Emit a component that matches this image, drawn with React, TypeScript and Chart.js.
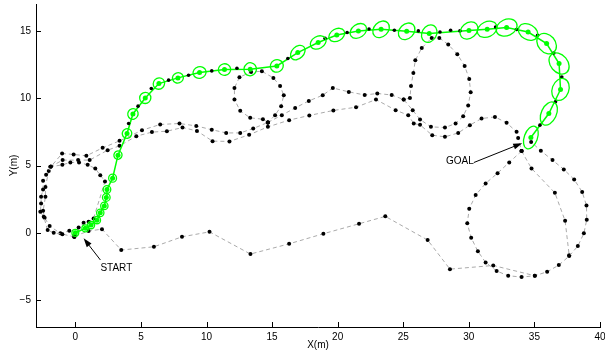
import React, { useEffect, useRef } from "react";
import { Chart, registerables } from "chart.js";
Chart.register(...registerables);

type P = [number, number];

const xTicks = [0, 5, 10, 15, 20, 25, 30, 35, 40];
const yTicks = [-5, 0, 5, 10, 15];

const bottomPath: P[] = [
  [-0.05, -0.24], [1.01, 0.13], [2.03, 0.27], [3.5, -1.28], [5.99, -1.04], [8.13, -0.3],
  [10.23, 0.07], [13.35, -1.58], [16.3, -0.82], [18.91, -0.07], [21.63, 0.67], [23.63, 1.22],
  [26.86, -0.54], [28.56, -2.7], [31.86, -2.43], [35.03, -3.19],
];

const lowerLoop: P[] = [
  [34.02, 6.07], [33.08, 5.23], [32.19, 4.43], [31.28, 3.67], [30.52, 2.8], [30.03, 1.78],
  [29.88, 0.7], [30.18, -0.37], [30.69, -1.38], [31.28, -2.2], [32.12, -2.84], [33.0, -3.19],
  [34.02, -3.29], [35.03, -3.19], [35.97, -2.9], [36.86, -2.4], [37.65, -1.73], [38.31, -0.99],
  [38.77, -0.04], [38.99, 0.97], [38.97, 2.03], [38.64, 3.04], [38.03, 3.96], [37.24, 4.71],
  [36.38, 5.4], [35.49, 6.09], [34.75, 6.75],
];

const lowerLoopInner: P[] = [
  [34.02, 6.07], [34.78, 4.78], [36.56, 2.97], [37.34, 0.89], [37.65, -1.66],
];

const leftLoopOuter: P[] = [
  [-0.08, -0.3], [-0.99, -0.1], [-1.65, 0.0], [-2.11, 0.2], [-2.41, 1.19], [-2.67, 1.56],
  [-2.61, 2.18], [-2.61, 2.67], [-2.46, 3.22], [-2.46, 3.86], [-2.23, 4.31], [-1.85, 4.93],
  [-1.01, 5.89], [-0.13, 5.82], [0.84, 5.72], [2.08, 6.31], [3.37, 6.83], [5.08, 7.62],
  [6.47, 8.05], [7.94, 8.12], [9.22, 7.94], [10.4, 7.66], [11.5, 7.42], [12.57, 7.42],
  [13.56, 7.75], [14.68, 8.2],
];

const leftLoopInner: P[] = [
  [-0.08, -0.3], [-0.46, 0.15], [-1.14, -0.04], [-1.96, 0.5], [-2.34, 1.11], [-2.46, 1.63],
  [-2.28, 2.67], [-2.28, 3.41], [-2.03, 4.6], [-1.9, 4.9], [-0.99, 5.05], [-0.38, 5.23],
  [0.28, 5.23], [0.94, 5.05], [1.52, 4.78], [1.9, 4.28], [2.26, 3.82], [1.39, 1.07],
  [1.01, 0.82], [0.63, 0.74], [0.25, 0.4], [-0.08, -0.3],
];

const midLower: P[] = [
  [-1.9, 4.9], [-0.97, 5.4], [0.21, 5.4], [1.09, 5.4], [2.46, 6.14], [3.37, 6.46], [4.65, 7.18],
  [5.84, 7.48], [6.98, 7.55], [8.17, 7.82], [9.27, 7.57], [10.46, 6.81], [11.75, 6.79],
  [13.25, 7.28], [14.68, 7.87], [16.3, 8.37], [17.84, 8.72], [19.67, 9.09], [21.4, 9.33],
  [22.92, 9.9], [24.42, 9.11], [25.38, 8.74], [25.8, 8.12], [26.28, 8.02], [27.21, 7.25],
  [28.18, 7.13], [29.19, 7.42], [30.08, 8.0], [30.97, 8.49], [31.99, 8.61], [32.88, 8.17],
  [33.64, 7.5], [33.76, 7.05], [34.02, 6.07],
];

const smallLoop: P[] = [
  [14.68, 8.2], [14.3, 8.44], [13.33, 8.54], [12.57, 9.06], [12.13, 9.9], [12.13, 10.76],
  [12.51, 11.56], [13.4, 11.95], [14.22, 12.0], [15.1, 11.51], [15.61, 10.91], [15.89, 10.22],
  [15.69, 9.41], [15.23, 8.74], [14.68, 8.2],
];

const midUpper: P[] = [
  [14.68, 8.2], [15.74, 8.74], [16.76, 9.28], [17.8, 9.8], [18.86, 10.22], [19.63, 10.76],
  [20.85, 10.47], [22.06, 10.24], [23.02, 10.35], [24.12, 10.24], [25.03, 9.9], [25.72, 9.11],
  [26.28, 8.42], [27.11, 7.87], [28.18, 7.82], [28.99, 8.12], [29.57, 8.66], [29.95, 9.46],
  [30.14, 10.45], [30.03, 11.43], [29.68, 12.4], [29.12, 13.27], [28.43, 13.99], [27.75, 14.48],
  [27.17, 14.48], [26.41, 13.73], [25.92, 12.82], [25.77, 11.88], [25.59, 10.91], [25.51, 10.02],
  [25.03, 9.9],
];

const plannedPath: P[] = [
  [0.0, 0.0], [0.76, 0.33], [1.2, 0.57], [1.65, 0.94], [1.9, 1.48], [2.21, 2.0], [2.36, 2.63],
  [2.41, 3.22], [2.84, 4.06], [3.25, 5.77], [3.94, 7.38], [4.39, 8.83], [5.33, 10.02],
  [6.37, 11.09], [7.82, 11.51], [9.47, 11.91], [11.37, 12.13], [13.33, 12.15], [15.36, 12.4],
  [16.96, 13.39], [18.51, 14.14], [19.93, 14.7], [21.58, 15.0], [23.31, 15.12], [25.26, 14.97],
  [26.98, 14.8], [30.01, 15.03], [31.4, 15.12], [32.88, 15.25], [34.52, 14.92], [35.93, 14.06],
  [36.88, 12.58], [36.99, 10.65], [36.1, 8.86], [34.73, 7.08],
];

// semi-major, semi-minor (m), orientation (deg)
const plannedCov: [number, number, number][] = [
  [0.26, 0.26, 0], [0.26, 0.26, 0], [0.27, 0.27, 0], [0.27, 0.27, 0], [0.28, 0.28, 0],
  [0.28, 0.28, 0], [0.29, 0.29, 0], [0.29, 0.29, 0], [0.3, 0.3, 0], [0.32, 0.3, 60],
  [0.37, 0.35, 60], [0.41, 0.38, 60], [0.43, 0.41, 45], [0.45, 0.41, 45], [0.42, 0.38, 20],
  [0.5, 0.43, 15], [0.47, 0.43, 10], [0.5, 0.46, 80], [0.5, 0.46, 30], [0.64, 0.44, 45],
  [0.64, 0.45, 30], [0.64, 0.45, 30], [0.68, 0.49, 35], [0.71, 0.53, 45], [0.71, 0.53, 45],
  [0.7, 0.54, 60], [0.75, 0.56, 40], [0.79, 0.56, 25], [0.83, 0.6, 25], [0.79, 0.56, -30],
  [0.86, 0.64, -50], [0.9, 0.64, -50], [0.86, 0.62, 70], [0.94, 0.56, 65], [0.9, 0.49, 70],
];

const onPathPoses: P[] = [
  [4.06, 8.12], [4.78, 9.41], [5.79, 10.72], [7.11, 11.34], [8.63, 11.71], [10.4, 12.03],
  [12.32, 12.23], [16.2, 12.95], [19.04, 14.45], [20.72, 14.88], [22.39, 15.14], [24.32, 15.05],
  [26.15, 15.0], [27.8, 14.92], [28.61, 15.05], [29.32, 15.0], [32.04, 15.29], [33.64, 15.1],
  [35.24, 14.68], [36.48, 13.36], [37.09, 11.58], [36.61, 9.73], [35.42, 8.0],
];

const startLabel = "START";
const startTail: P = [1.91, -2.02];
const startHead: P = [0.63, -0.41];
const startText: P = [1.91, -2.6];

const goalLabel = "GOAL";
const goalTail: P = [30.38, 5.22];
const goalHead: P = [34.07, 6.66];
const goalText: P = [30.38, 5.29];

const GREEN = "#00ff00";
const FONT = "'Liberation Sans', Arial, Helvetica, sans-serif";

const toXY = (arr: P[]) => arr.map(([x, y]) => ({ x, y }));
const fmt = (v: number) => (v < 0 ? "\u2212" + String(-v) : String(v));

const trajStyle = {
  showLine: true,
  borderColor: "#aaaaaa",
  borderWidth: 1,
  borderDash: [4, 3],
  pointRadius: 2,
  pointBackgroundColor: "#000",
  pointBorderWidth: 0,
  pointHoverRadius: 2,
  order: 5,
};

const overlay = {
  id: "overlay",
  afterDatasetsDraw(chart: any) {
    const { ctx, chartArea } = chart;
    const xs = chart.scales.x;
    const ys = chart.scales.y;
    ctx.save();
    ctx.strokeStyle = GREEN;
    ctx.lineWidth = 1.3;
    plannedPath.forEach(([cx, cy], i) => {
      const [a, b, ang] = plannedCov[i];
      const px = xs.getPixelForValue(cx);
      const py = ys.getPixelForValue(cy);
      const ra = Math.abs(xs.getPixelForValue(cx + a) - px);
      const rb = Math.abs(ys.getPixelForValue(cy + b) - py);
      ctx.beginPath();
      ctx.ellipse(px, py, ra, rb, (-ang * Math.PI) / 180, 0, Math.PI * 2);
      ctx.stroke();
    });
    const arrow = (tail: P, head: P) => {
      const x0 = xs.getPixelForValue(tail[0]);
      const y0 = ys.getPixelForValue(tail[1]);
      const x1 = xs.getPixelForValue(head[0]);
      const y1 = ys.getPixelForValue(head[1]);
      const ang = Math.atan2(y1 - y0, x1 - x0);
      const L = 9;
      const W = 3;
      ctx.strokeStyle = "#000";
      ctx.fillStyle = "#000";
      ctx.lineWidth = 1;
      ctx.beginPath();
      ctx.moveTo(x0, y0);
      ctx.lineTo(x1 - Math.cos(ang) * L * 0.8, y1 - Math.sin(ang) * L * 0.8);
      ctx.stroke();
      const bx = x1 - Math.cos(ang) * L;
      const by = y1 - Math.sin(ang) * L;
      ctx.beginPath();
      ctx.moveTo(x1, y1);
      ctx.lineTo(bx + Math.sin(ang) * W, by - Math.cos(ang) * W);
      ctx.lineTo(bx - Math.sin(ang) * W, by + Math.cos(ang) * W);
      ctx.closePath();
      ctx.fill();
    };
    arrow(startTail, startHead);
    arrow(goalTail, goalHead);
    ctx.font = `10px ${FONT}`;
    ctx.fillStyle = "#000";
    ctx.textBaseline = "middle";
    ctx.textAlign = "left";
    ctx.fillText(startLabel, xs.getPixelForValue(startText[0]), ys.getPixelForValue(startText[1]));
    ctx.textAlign = "right";
    ctx.fillText(goalLabel, xs.getPixelForValue(goalText[0]), ys.getPixelForValue(goalText[1]));
    ctx.strokeStyle = "#000";
    ctx.lineWidth = 1;
    xTicks.forEach((v) => {
      const px = Math.round(xs.getPixelForValue(v)) + 0.5;
      ctx.beginPath();
      ctx.moveTo(px, chartArea.bottom);
      ctx.lineTo(px, chartArea.bottom - 5);
      ctx.stroke();
    });
    yTicks.forEach((v) => {
      const py = Math.round(ys.getPixelForValue(v)) + 0.5;
      ctx.beginPath();
      ctx.moveTo(chartArea.left, py);
      ctx.lineTo(chartArea.left + 5, py);
      ctx.stroke();
    });
    ctx.restore();
  },
};

export default function App() {
  const ref = useRef<HTMLCanvasElement | null>(null);
  useEffect(() => {
    if (!ref.current) return;
    const chart = new Chart(ref.current, {
      type: "scatter",
      data: {
        datasets: [
          { ...trajStyle, data: toXY(bottomPath) },
          { ...trajStyle, data: toXY(lowerLoop) },
          { ...trajStyle, data: toXY(lowerLoopInner) },
          { ...trajStyle, data: toXY(leftLoopOuter) },
          { ...trajStyle, data: toXY(leftLoopInner) },
          { ...trajStyle, data: toXY(midLower) },
          { ...trajStyle, data: toXY(smallLoop) },
          { ...trajStyle, data: toXY(midUpper) },
          {
            data: toXY(plannedPath),
            showLine: true,
            borderColor: GREEN,
            borderWidth: 1.5,
            pointRadius: 2.5,
            pointBackgroundColor: GREEN,
            pointBorderWidth: 0,
            order: 2,
          },
          {
            data: toXY(onPathPoses),
            showLine: false,
            pointRadius: 1.8,
            pointBackgroundColor: "#000",
            pointBorderWidth: 0,
            order: 1,
          },
        ] as any,
      },
      options: {
        responsive: false,
        maintainAspectRatio: false,
        animation: false,
        events: [],
        layout: { padding: { left: 0, right: 5, top: 4, bottom: 0 } },
        plugins: { legend: { display: false }, tooltip: { enabled: false } },
        scales: {
          x: {
            type: "linear",
            min: -3,
            max: 40,
            afterBuildTicks: (s: any) => {
              s.ticks = xTicks.map((v) => ({ value: v }));
            },
            afterFit: (s: any) => {
              s.height = 24;
              s.paddingLeft = 0;
              s.paddingRight = 0;
            },
            grid: { display: false, drawTicks: false },
            border: { display: true, color: "#000", width: 1 },
            ticks: { color: "#000", padding: 4, font: { family: FONT, size: 10 }, maxRotation: 0, autoSkip: false, callback: (v: any) => fmt(Number(v)) },
            title: { display: true, text: "X(m)", color: "#000", font: { family: FONT, size: 10 }, padding: { top: 0, bottom: 0 } },
          },
          y: {
            type: "linear",
            min: -7,
            max: 17,
            afterBuildTicks: (s: any) => {
              s.ticks = yTicks.map((v) => ({ value: v }));
            },
            afterFit: (s: any) => {
              s.width = 36;
              s.paddingTop = 0;
              s.paddingBottom = 0;
            },
            grid: { display: false, drawTicks: false },
            border: { display: true, color: "#000", width: 1 },
            ticks: { color: "#000", padding: 5, font: { family: FONT, size: 10 }, autoSkip: false, callback: (v: any) => fmt(Number(v)) },
            title: { display: true, text: "Y(m)", color: "#000", font: { family: FONT, size: 10 }, padding: { top: 8, bottom: 0 } },
          },
        },
      } as any,
      plugins: [overlay],
    });
    return () => chart.destroy();
  }, []);
  return (
    <div style={{ position: "absolute", left: 0, top: 0, width: 605, height: 351, background: "#fff" }}>
      <canvas ref={ref} width={605} height={351} />
    </div>
  );
}
